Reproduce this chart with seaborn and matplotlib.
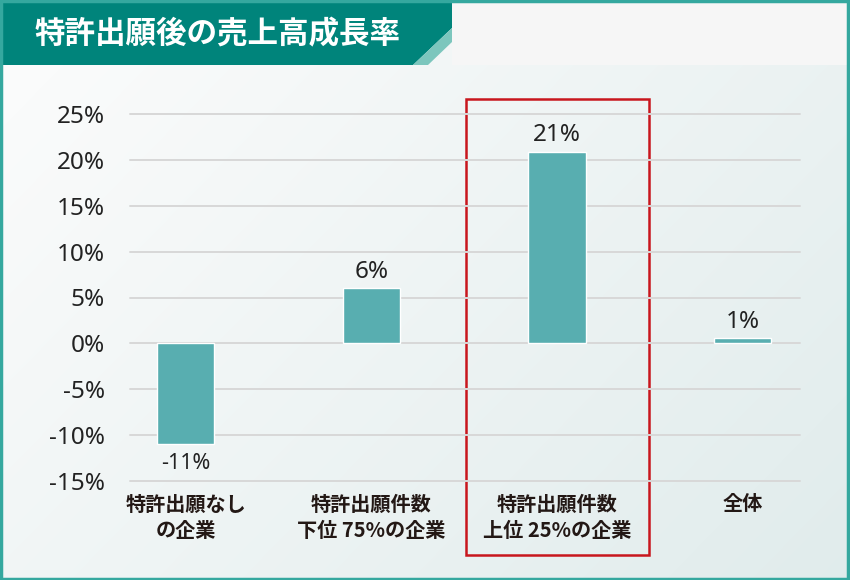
import numpy as np
import pandas as pd
import matplotlib
matplotlib.use("Agg")
import matplotlib.pyplot as plt
import seaborn as sns
from matplotlib.patches import Polygon, Rectangle

# ---- data ----
categories = ["特許出願なし\nの企業", "特許出願件数\n下位 75%の企業", "特許出願件数\n上位 25%の企業", "全体"]
growth = [-11.0, 6.0, 20.9, 0.55]
value_labels = ["-11%", "6%", "21%", "1%"]
yticks = [-15, -10, -5, 0, 5, 10, 15, 20, 25]
ytick_labels = [f"{v}%" for v in yticks]
title = "特許出願後の売上高成長率"

sns.set_theme(style="white")
plt.rcParams['font.family'] = ['Noto Sans CJK JP', 'DejaVu Sans']
NUMFONT = ['Noto Sans', 'DejaVu Sans']

W, H = 850, 580
fig = plt.figure(figsize=(8.5, 5.8), dpi=100)

# background gradient
bg = fig.add_axes([0, 0, 1, 1], zorder=-10)
xx, yy = np.meshgrid(np.linspace(0, 1, 200), np.linspace(0, 1, 200))
t = np.clip((xx * 0.6 + yy * 0.4), 0, 1)
c0 = np.array([0.99, 0.99, 0.99])
c1 = np.array([0.88, 0.925, 0.925])
img = c0[None, None, :] * (1 - t[..., None]) + c1[None, None, :] * t[..., None]
bg.imshow(img, extent=[0, W, H, 0], aspect='auto', interpolation='bilinear')
bg.set_xlim(0, W)
bg.set_ylim(H, 0)
bg.axis('off')

# top-right lighter panel
bg.add_patch(Rectangle((452, 2), 396, 63, facecolor="#f6f6f6", edgecolor="none", zorder=2))
# title banner
bg.add_patch(Polygon([(0, 0), (452, 0), (452, 28), (413, 65), (0, 65)], closed=True,
                     facecolor="#00847b", edgecolor="none", zorder=3))
bg.add_patch(Polygon([(413, 65), (452, 28), (452, 42), (428, 65)], closed=True,
                     facecolor="#7cc6bd", edgecolor="none", zorder=3))
bg.text(35, 34, title, color="white", fontsize=22, fontweight="bold", va="center", ha="left",
        zorder=4, family=['Noto Sans CJK JP', 'DejaVu Sans'])
# figure border
bg.add_patch(Rectangle((1, 1), W - 2.5, H - 2.5, facecolor="none", edgecolor="#35a89f",
                       linewidth=2.5, zorder=5))

# main chart
left, right = 130 / W, 800 / W
bottom, top = 1 - 481 / H, 1 - 114 / H
ax = fig.add_axes([left, bottom, right - left, top - bottom])
ax.patch.set_alpha(0)

df = pd.DataFrame({"cat": categories, "val": growth})
sns.barplot(data=df, x="cat", y="val", color="#58aeb0", saturation=1, width=0.31, ax=ax, zorder=3)

ax.set_ylim(-15, 25)
ax.set_xlim(-0.3, 3.31)
ax.set_yticks(yticks)
ax.set_yticklabels(ytick_labels, family=NUMFONT, fontsize=17.5, color="#222222")
for y in yticks:
    ax.axhline(y, color="#d8d8d8", linewidth=1.4, zorder=1, clip_on=False)
for s in ax.spines.values():
    s.set_visible(False)
ax.tick_params(axis='y', length=0, pad=18)
ax.tick_params(axis='x', length=0, pad=9)
ax.set_xticks(range(len(categories)))
ax.set_xticklabels(categories, fontsize=14.5, fontweight="bold", color="#231815",
                   linespacing=1.3, family=['Noto Sans CJK JP', 'DejaVu Sans'], va="top")
ax.set_xlabel("")
ax.set_ylabel("")

for i, (v, lab) in enumerate(zip(growth, value_labels)):
    if v >= 0:
        ax.annotate(lab, (i, v), xytext=(0, 3), textcoords="offset points", ha="center", va="bottom",
                    fontsize=17.5, color="#222222", family=NUMFONT)
    else:
        ax.annotate(lab, (i, v), xytext=(0, -6), textcoords="offset points", ha="center", va="top",
                    fontsize=15.5, color="#222222", family=NUMFONT)

# red highlight rectangle
bg.add_patch(Rectangle((466.5, 98.5), 182.5, 456, facecolor="none", edgecolor="#c8161d",
                       linewidth=1.8, zorder=6))

fig.savefig("out.png", dpi=100)
